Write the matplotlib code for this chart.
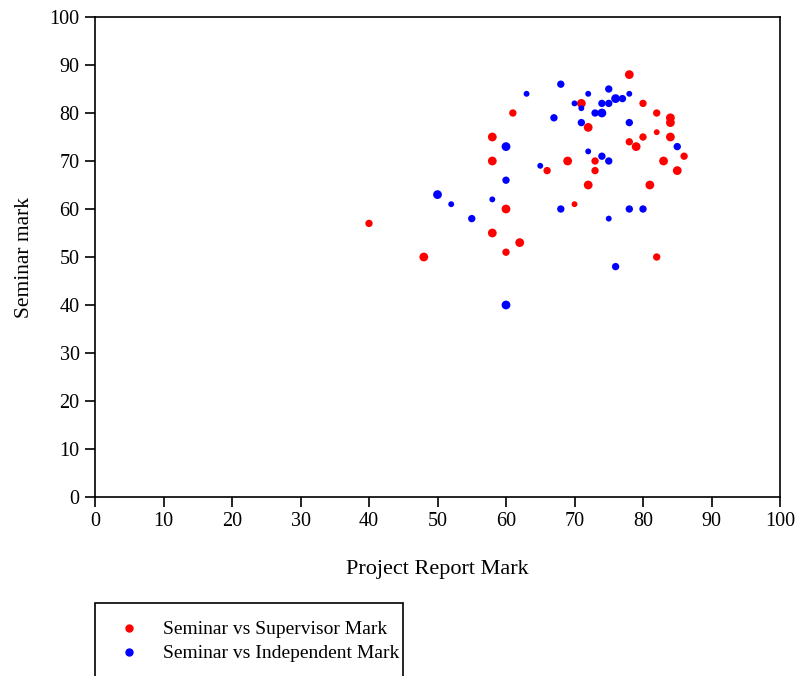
import matplotlib
matplotlib.use("Agg")
import matplotlib.pyplot as plt
from matplotlib.lines import Line2D
from matplotlib.patches import Rectangle

# Seminar vs Supervisor Mark (red)
sup_x = [78, 71, 80, 61, 82, 84, 84, 72, 82, 58, 80, 84, 78, 79, 86, 58, 69, 73, 83,
         66, 73, 85, 72, 81, 60, 70, 40, 58, 62, 60, 48, 82]
sup_y = [88, 82, 82, 80, 80, 79, 78, 77, 76, 75, 75, 75, 74, 73, 71, 70, 70, 70, 70,
         68, 68, 68, 65, 65, 60, 61, 57, 55, 53, 51, 50, 50]
sup_lvl = [3, 3, 2, 2, 2, 3, 3, 3, 1, 3, 2, 3, 2, 3, 2, 3, 3, 2, 3,
           2, 2, 3, 3, 3, 3, 1, 2, 3, 3, 2, 3, 2]

# Seminar vs Independent Mark (blue)
ind_x = [68, 63, 72, 75, 78, 70, 71, 74, 75, 76, 77, 67, 73, 74, 71, 78, 60, 85, 72,
         74, 75, 65, 60, 50, 52, 58, 68, 78, 80, 55, 75, 76, 60]
ind_y = [86, 84, 84, 85, 84, 82, 81, 82, 82, 83, 83, 79, 80, 80, 78, 78, 73, 73, 72,
         71, 70, 69, 66, 63, 61, 62, 60, 60, 60, 58, 58, 48, 40]
ind_lvl = [2, 1, 1, 2, 1, 1, 1, 2, 2, 3, 2, 2, 2, 3, 2, 2, 3, 2, 1,
           2, 2, 1, 2, 3, 1, 1, 2, 2, 2, 2, 1, 2, 3]

size_map = {1: 18, 2: 28, 3: 40}

plt.rcParams['font.family'] = ['Liberation Serif', 'DejaVu Serif']
plt.rcParams['font.size'] = 14.5

W, H = 796, 676
fig = plt.figure(figsize=(W / 100, H / 100), dpi=100)
ax = fig.add_axes([95 / W, 1 - 497 / H, (780 - 95) / W, (497 - 17) / H])

ax.scatter(sup_x, sup_y, s=[size_map[v] for v in sup_lvl], c='#ff0000', linewidths=0, zorder=3)
ax.scatter(ind_x, ind_y, s=[size_map[v] for v in ind_lvl], c='#0000ff', linewidths=0, zorder=3)

ax.set_xlim(0, 100)
ax.set_ylim(0, 100)
ax.set_xticks(range(0, 101, 10))
ax.set_yticks(range(0, 101, 10))
ax.tick_params(direction='out', length=7, width=1.2, labelsize=14.5, pad=4)
for sp in ax.spines.values():
    sp.set_linewidth(1.2)
ax.set_xlabel('Project Report Mark', fontsize=16, labelpad=21)
ax.set_ylabel('Seminar mark', fontsize=15.5, labelpad=11)

# legend box (extends below figure edge)
rect = Rectangle((95 / W, 1 - 690 / H), (403 - 95) / W, (690 - 603) / H,
                 transform=fig.transFigure, fill=False, edgecolor='black', linewidth=1.2,
                 clip_on=False)
fig.patches.append(rect)
for yy, col, lab in [(628, '#ff0000', 'Seminar vs Supervisor Mark'),
                     (652, '#0000ff', 'Seminar vs Independent Mark')]:
    fig.add_artist(Line2D([129 / W], [1 - yy / H], marker='o', markersize=5,
                          color=col, linestyle='none', transform=fig.transFigure))
    fig.text(163 / W, 1 - (yy + 1) / H, lab, va='center', ha='left', fontsize=14)

fig.savefig('out.png', dpi=100)
